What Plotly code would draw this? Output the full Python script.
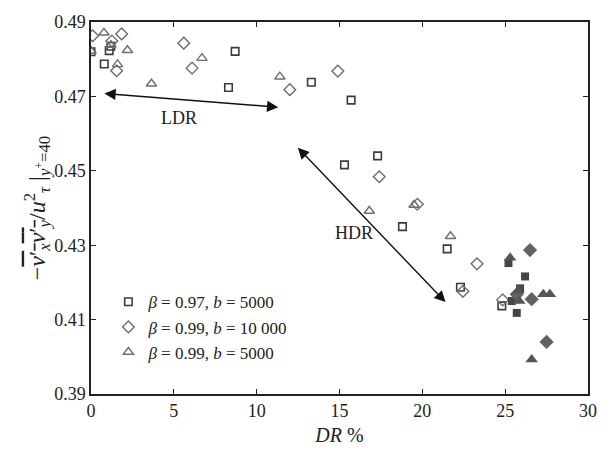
import plotly.graph_objects as go

# Open markers (legend series)
sq_x = [0.0, 0.8, 1.1, 1.2, 8.3, 8.7, 13.3, 15.7, 15.3, 17.3, 18.8, 21.5, 22.3, 24.8]
sq_y = [0.482, 0.4787, 0.4823, 0.4835, 0.4724, 0.4821, 0.4738, 0.469, 0.4516, 0.454, 0.435, 0.429, 0.4187, 0.4137]

di_x = [0.1, 1.26, 1.85, 1.55, 5.6, 6.1, 12.0, 14.9, 17.4, 19.7, 23.3, 22.45, 24.85]
di_y = [0.4863, 0.4849, 0.4868, 0.4769, 0.4843, 0.4776, 0.4718, 0.4768, 0.4484, 0.441, 0.425, 0.4176, 0.4153]

tr_x = [0.0, 0.78, 1.2, 2.2, 1.6, 3.65, 6.7, 11.4, 16.8, 19.5, 21.7]
tr_y = [0.4822, 0.4871, 0.4838, 0.4824, 0.4786, 0.4734, 0.4803, 0.4753, 0.4392, 0.4408, 0.4324]

# Filled markers (no legend)
fsq_x = [25.2, 26.2, 25.9, 25.7, 25.4]
fsq_y = [0.4252, 0.4216, 0.4184, 0.4118, 0.4150]
fdi_x = [26.5, 26.6, 27.5, 25.7]
fdi_y = [0.4287, 0.4155, 0.4040, 0.4168]
ftr_x = [25.3, 25.8, 25.85, 27.3, 27.7, 26.6]
ftr_y = [0.4266, 0.4178, 0.4150, 0.4168, 0.4168, 0.3993]

legend_names = ["<i>β</i> = 0.97, <i>b</i> = 5000",
                "<i>β</i> = 0.99, <i>b</i> = 10 000",
                "<i>β</i> = 0.99, <i>b</i> = 5000"]

# Annotation arrows (data coords)
ldr_arrow = (0.72, 0.4708, 11.3, 0.4671)
hdr_arrow = (12.4, 0.4566, 21.4, 0.4147)
ldr_label = (5.3, 0.4642)
hdr_label = (15.9, 0.4332)

FONT = "Liberation Serif, Times New Roman, Times, serif"
SQC = "#3c3c3c"
DIC = "#6e6e6e"
TRC = "#6e6e6e"

fig = go.Figure()
fig.add_trace(go.Scatter(x=sq_x, y=sq_y, mode="markers", name=legend_names[0],
                         marker=dict(symbol="square-open", size=7.5, color=SQC, line=dict(width=1.6))))
fig.add_trace(go.Scatter(x=di_x, y=di_y, mode="markers", name=legend_names[1],
                         marker=dict(symbol="diamond-open", size=9, color=DIC, line=dict(width=1.4))))
fig.add_trace(go.Scatter(x=tr_x, y=tr_y, mode="markers", name=legend_names[2],
                         marker=dict(symbol="triangle-up-open", size=9, color=TRC, line=dict(width=1.4))))
fig.add_trace(go.Scatter(x=fsq_x, y=fsq_y, mode="markers", showlegend=False,
                         marker=dict(symbol="square", size=8, color="#454545")))
fig.add_trace(go.Scatter(x=fdi_x, y=fdi_y, mode="markers", showlegend=False,
                         marker=dict(symbol="diamond", size=11, color="#626262")))
fig.add_trace(go.Scatter(x=ftr_x, y=ftr_y, mode="markers", showlegend=False,
                         marker=dict(symbol="triangle-up", size=11, color="#555555")))

for (x0, y0, x1, y1) in (ldr_arrow, hdr_arrow):
    fig.add_annotation(x=x1, y=y1, ax=x0, ay=y0, xref="x", yref="y", axref="x", ayref="y",
                       text="", showarrow=True, arrowhead=2, startarrowhead=2,
                       arrowside="end+start", arrowsize=1.6, startarrowsize=1.6,
                       arrowwidth=1.4, arrowcolor="#111111")

fig.add_annotation(x=ldr_label[0], y=ldr_label[1], text="LDR", showarrow=False,
                   font=dict(family=FONT, size=18, color="#222"))
fig.add_annotation(x=hdr_label[0], y=hdr_label[1], text="HDR", showarrow=False,
                   font=dict(family=FONT, size=18, color="#222"))

axis_common = dict(showline=True, linecolor="#222", linewidth=1.5, mirror="ticks",
                   ticks="inside", ticklen=5, tickwidth=1, tickcolor="#222",
                   showgrid=False, zeroline=False,
                   tickfont=dict(family=FONT, size=18, color="#222"))

fig.update_xaxes(range=[0, 30], dtick=5, tick0=0,
                 title=dict(text="<i>DR</i> %", font=dict(family=FONT, size=20, color="#222"),
                            standoff=8),
                 **axis_common)
fig.update_yaxes(range=[0.39, 0.49], dtick=0.02, tick0=0.39, tickformat=".2f",
                 title=dict(text="−<span style=\"text-decoration:overline\"><i>v</i>′<sub><i>x</i></sub><i>v</i>′<sub><i>y</i></sub></span>/<i>u</i><sup>2</sup><sub><i>τ</i></sub> |<sub><i>y</i><sup>+</sup>=40</sub>",
                            font=dict(family=FONT, size=24, color="#222"), standoff=2),
                 **axis_common)

fig.update_layout(
    width=609, height=455,
    margin=dict(l=91, r=17, t=14, b=61),
    plot_bgcolor="white", paper_bgcolor="white",
    font=dict(family=FONT, color="#222"),
    legend=dict(x=0.035, y=0.295, xanchor="left", yanchor="top",
                bgcolor="rgba(0,0,0,0)", font=dict(family=FONT, size=17, color="#222"),
                itemwidth=30, tracegroupgap=0),
)

fig.write_html("out.html")
